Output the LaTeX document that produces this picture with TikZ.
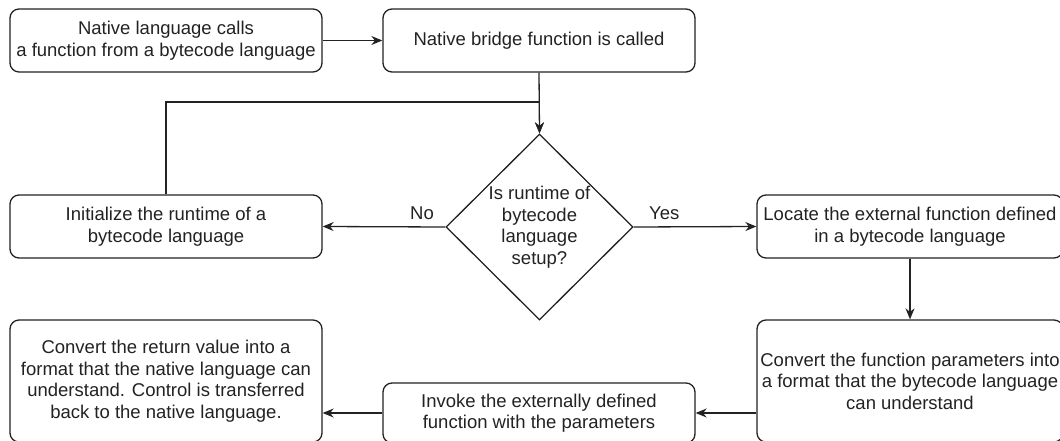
\documentclass[tikz,border=0pt]{standalone}
\usepackage{fontspec}
\setmainfont{Liberation Sans}
\usetikzlibrary{shapes.geometric,arrows.meta}
\definecolor{ink}{HTML}{222222}
\newcommand{\flowfont}{\fontsize{18.5}{21.5}\selectfont}
\begin{document}
\begin{tikzpicture}[x=1pt,y=-1pt,
  box/.style={draw=ink, line width=1.3pt, rounded corners=9pt, align=center,
    inner sep=0pt, text=ink, font=\flowfont, minimum width=312pt},
  decision/.style={shape=diamond, draw=ink, line width=1.3pt, align=center,
    inner sep=0pt, text=ink, font=\flowfont, minimum width=187pt, minimum height=186pt},
  flow/.style={draw=ink, line width=1.3pt, -{Stealth[length=11pt,width=9pt]}},
  lbl/.style={text=ink, font=\flowfont, inner sep=1pt}
]
\useasboundingbox (0,0) rectangle (1060,441);
\clip (0,0) rectangle (1060,441);

% process boxes
\node[box, minimum height=63pt] (call) at (166,40.5)
  {Native language calls\\a function from a bytecode language};
\node[box, minimum height=63pt] (bridge) at (539,40.5)
  {Native bridge function is called};
\node[decision] (check) at (539.5,227)
  {Is runtime of\\bytecode\\language\\setup?};
\node[box, minimum height=63pt] (init) at (166,226.5)
  {Initialize the runtime of a\\bytecode language};
\node[box, minimum height=63pt, minimum width=306pt] (locate) at (910,226.5)
  {Locate the external function defined\\in a bytecode language};
\node[box, minimum height=122pt, minimum width=306pt] (params) at (910,381)
  {Convert the function parameters into\\a format that the bytecode language\\can understand};
\node[box, minimum height=60pt] (invoke) at (539,413)
  {Invoke the externally defined\\function with the parameters};
\node[box, minimum height=122pt] (ret) at (166,381)
  {Convert the return value into a\\format that the native language can\\understand. Control is transferred\\back to the native language.};

% connectors
\coordinate (join) at (539.5,102);
\draw[flow] (call.east) -- (bridge.west);
\draw[flow] (bridge.south) -- (check.north);
\draw[flow] (init.north) |- (join) -- (check.north);
\draw[flow] (check.west) -- node[lbl, pos=0.19, above, yshift=6pt] {No} (init.east);
\draw[flow] (check.east) -- node[lbl, pos=0.25, above, yshift=6pt] {Yes} (locate.west);
\draw[flow] (locate.south) -- (params.north);
\draw[flow] (params.west |- invoke.east) -- (invoke.east);
\draw[flow] (invoke.west) -- (ret.east |- invoke.west);
\end{tikzpicture}
\end{document}
